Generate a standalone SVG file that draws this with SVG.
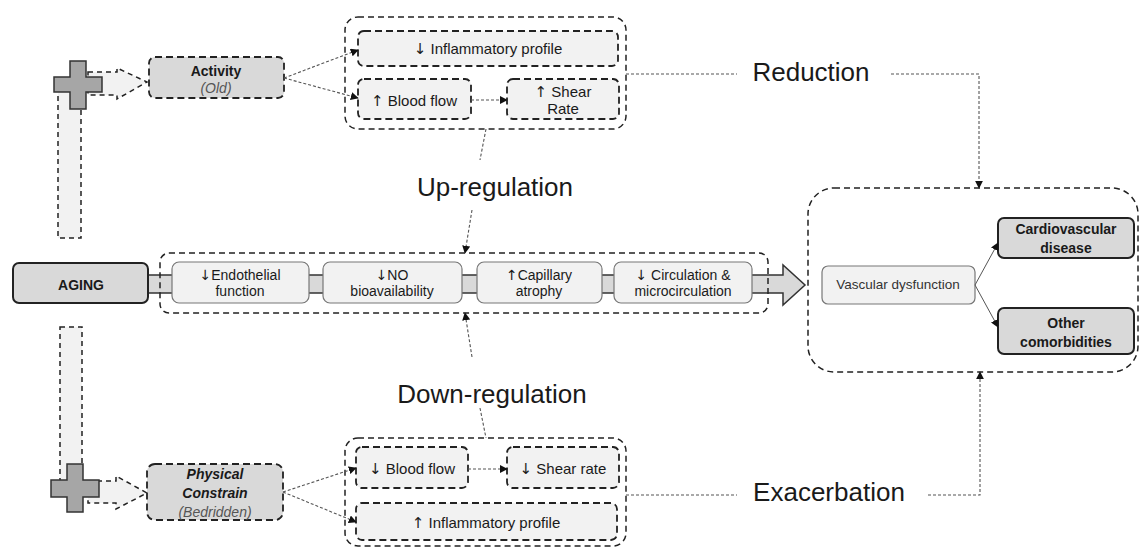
<svg xmlns="http://www.w3.org/2000/svg" width="1139" height="548" viewBox="0 0 1139 548">
<defs>
<style>
text{font-family:"Liberation Sans",Arial,sans-serif;fill:#1a1a1a;text-anchor:middle}
.ar{font-family:"DejaVu Sans",sans-serif;fill:#1a1a1a}
.dash{fill:none;stroke:#222;stroke-width:1.5;stroke-dasharray:6 4}
.dashbox{fill:#f2f2f2;stroke:#222;stroke-width:1.8;stroke-dasharray:7 4}
.dashdark{fill:#d9d9d9;stroke:#222;stroke-width:1.8;stroke-dasharray:7 4}
.soft{fill:#f2f2f2;stroke:#777;stroke-width:1.2}
.hard{fill:#d9d9d9;stroke:#222;stroke-width:2}
.cross{fill:#a6a6a6;stroke:#333;stroke-width:1.5}
.bar{fill:#f2f2f2;stroke:#222;stroke-width:1.5;stroke-dasharray:5 4}
.dot{fill:none;stroke:#555;stroke-width:1.1;stroke-dasharray:3 2}
.solid{fill:none;stroke:#555;stroke-width:1}
.t14{font-size:14px}
.t15{font-size:15px}
.big{font-size:26px}
.b{font-weight:bold}
.it{font-style:italic;fill:#555}
</style>
<marker id="ah" viewBox="0 0 10 10" refX="9" refY="5" markerWidth="8" markerHeight="8" markerUnits="userSpaceOnUse" orient="auto"><path d="M0,0L10,5L0,10z" fill="#111"/></marker>
</defs>

<g id="aging-band">
<polygon points="148,275 783,275 783,265 805,285 783,305 783,293 148,293" fill="#d9d9d9" stroke="#333" stroke-width="1.5"/>
</g>

<g id="activity-arrow">
<rect class="bar" x="58" y="88" width="23" height="150"/>
<polygon class="bar" points="88,72 117,72 117,68 147,82 117,99 117,95 88,95"/>
<path class="cross" d="M70,61H86V77H102V92H86V109H70V92H54V77H70Z"/>
</g>

<g id="constrain-arrow">
<rect class="bar" x="60" y="327" width="22" height="155"/>
<polygon class="bar" points="88,481 116,481 116,476 147,493 116,509 116,503 88,503"/>
<path class="cross" d="M67,464H83V480H99V497H83V512H67V497H51V480H67Z"/>
</g>

<g id="aging">
<rect class="hard" x="13" y="263" width="135" height="40" rx="6"/>
<text class="t14 b" x="81" y="290">AGING</text>
</g>

<g id="activity">
<rect class="dashdark" x="149" y="57" width="135" height="41" rx="6"/>
<text class="t14 b" x="216" y="76">Activity</text>
<text class="t14 it" x="216" y="93">(Old)</text>
</g>

<g id="physical">
<rect class="dashdark" x="147" y="464" width="136" height="56" rx="8"/>
<text class="t14 b" x="215" y="479" font-style="italic">Physical</text>
<text class="t14 b" x="215" y="498" font-style="italic">Constrain</text>
<text class="t14 it" x="215" y="517">(Bedridden)</text>
</g>

<g id="top-group">
<rect class="dash" x="345" y="17" width="281" height="112" rx="13"/>
<g id="top-inflam">
<rect class="dashbox" x="358" y="31" width="260" height="35" rx="6"/>
<text class="t15" x="488" y="54"><tspan class="ar">↓</tspan> Inflammatory profile</text>
</g>
<g id="top-blood">
<rect class="dashbox" x="358" y="79" width="113" height="40" rx="6"/>
<text class="t15" x="414" y="106"><tspan class="ar">↑</tspan> Blood flow</text>
</g>
<g id="top-shear">
<rect class="dashbox" x="507" y="79" width="112" height="40" rx="6"/>
<text class="t15" x="563" y="97"><tspan class="ar">↑</tspan> Shear</text>
<text class="t15" x="563" y="114">Rate</text>
</g>
</g>

<g id="bottom-group">
<rect class="dash" x="345" y="438" width="281" height="108" rx="13"/>
<g id="bot-blood">
<rect class="dashbox" x="356" y="447" width="112" height="41" rx="6"/>
<text class="t15" x="412" y="474"><tspan class="ar">↓</tspan> Blood flow</text>
</g>
<g id="bot-shear">
<rect class="dashbox" x="507" y="447" width="112" height="41" rx="6"/>
<text class="t15" x="563" y="474"><tspan class="ar">↓</tspan> Shear rate</text>
</g>
<g id="bot-inflam">
<rect class="dashbox" x="356" y="503" width="261" height="37" rx="6"/>
<text class="t15" x="486" y="528"><tspan class="ar">↑</tspan> Inflammatory profile</text>
</g>
</g>

<g id="middle-group">
<g id="endothelial">
<rect class="soft" x="172" y="262" width="137" height="41" rx="7"/>
<text class="t14" x="240" y="280"><tspan class="ar">↓</tspan>Endothelial</text>
<text class="t14" x="240" y="296">function</text>
</g>
<g id="no">
<rect class="soft" x="323" y="262" width="139" height="41" rx="7"/>
<text class="t14" x="392" y="280"><tspan class="ar">↓</tspan>NO</text>
<text class="t14" x="392" y="296">bioavailability</text>
</g>
<g id="capillary">
<rect class="soft" x="477" y="262" width="125" height="41" rx="7"/>
<text class="t14" x="539" y="280"><tspan class="ar">↑</tspan>Capillary</text>
<text class="t14" x="539" y="296">atrophy</text>
</g>
<g id="circulation">
<rect class="soft" x="614" y="262" width="138" height="41" rx="7"/>
<text class="t14" x="683" y="280"><tspan class="ar">↓</tspan> Circulation &amp;</text>
<text class="t14" x="683" y="296">microcirculation</text>
</g>
<rect class="dash" x="160" y="253" width="608" height="60" rx="9"/>
</g>

<g id="outcome-group">
<rect class="dash" x="808" y="188" width="330" height="184" rx="26"/>
<g id="vascular">
<rect class="soft" x="822" y="266" width="153" height="38" rx="6"/>
<text x="898" y="289" font-size="13.5px" style="fill:#333">Vascular dysfunction</text>
</g>
<g id="cardio">
<rect class="hard" x="998" y="218" width="136" height="40" rx="6"/>
<text class="t14 b" x="1066" y="234">Cardiovascular</text>
<text class="t14 b" x="1066" y="253">disease</text>
</g>
<g id="other">
<rect class="hard" x="998" y="308" width="136" height="46" rx="6"/>
<text class="t14 b" x="1066" y="328">Other</text>
<text class="t14 b" x="1066" y="347">comorbidities</text>
</g>
</g>

<g id="labels">
<text class="big" x="811" y="81">Reduction</text>
<text class="big" x="495" y="196">Up-regulation</text>
<text class="big" x="492" y="403">Down-regulation</text>
<text class="big" x="829" y="501">Exacerbation</text>
</g>

<g id="connectors">
<line class="dot" x1="284" y1="78" x2="358" y2="50" marker-end="url(#ah)"/>
<line class="dot" x1="284" y1="78" x2="358" y2="98" marker-end="url(#ah)"/>
<line class="dot" x1="471" y1="100" x2="507" y2="100" marker-end="url(#ah)"/>
<line class="dot" x1="626" y1="74" x2="737" y2="74"/>
<polyline class="dot" points="891,74 979,74 979,188" marker-end="url(#ah)"/>
<line class="dot" x1="486" y1="129" x2="480" y2="160"/>
<line class="dot" x1="472" y1="210" x2="465" y2="253" marker-end="url(#ah)"/>
<line class="dot" x1="472" y1="357" x2="465" y2="313" marker-end="url(#ah)"/>
<line class="dot" x1="480" y1="408" x2="486" y2="438"/>
<line class="dot" x1="283" y1="492" x2="356" y2="468" marker-end="url(#ah)"/>
<line class="dot" x1="283" y1="492" x2="356" y2="522" marker-end="url(#ah)"/>
<line class="dot" x1="468" y1="469" x2="507" y2="469" marker-end="url(#ah)"/>
<line class="dot" x1="626" y1="495" x2="737" y2="495"/>
<polyline class="dot" points="928,495 980,495 980,372" marker-end="url(#ah)"/>
<line class="solid" x1="975" y1="285" x2="998" y2="243" marker-end="url(#ah)"/>
<line class="solid" x1="975" y1="285" x2="998" y2="327" marker-end="url(#ah)"/>
</g>
</svg>
